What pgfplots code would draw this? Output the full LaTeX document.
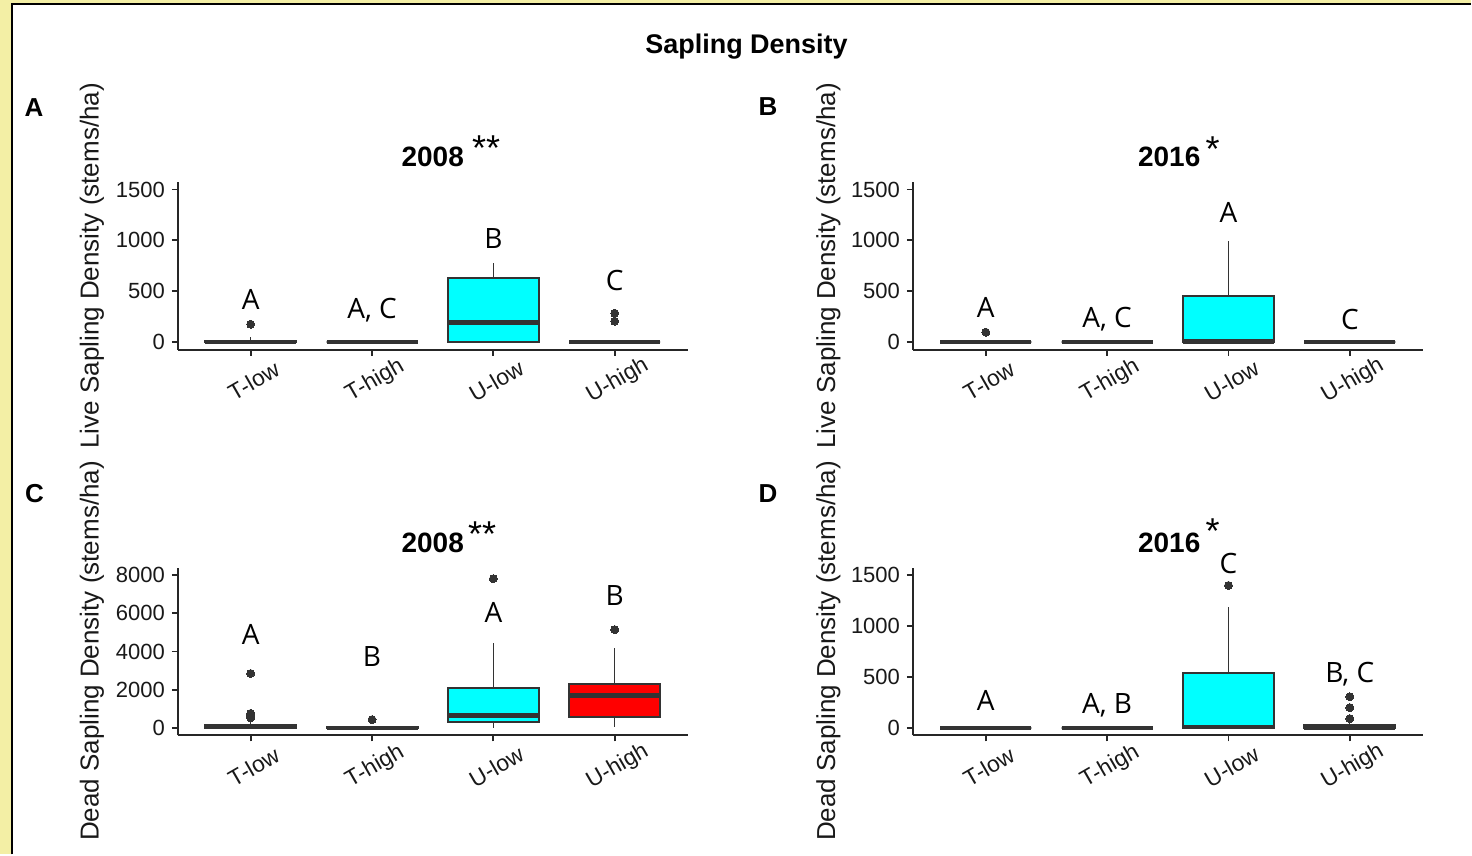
\documentclass[border=0pt]{standalone}
\usepackage{pgfplots}
\pgfplotsset{compat=1.18}
\usepackage{fontspec}
\setmainfont{Liberation Sans}
\newfontfamily\letterfont{Open Sans}
\definecolor{bgyellow}{HTML}{F3EFA5}
\definecolor{boxline}{HTML}{333333}
\definecolor{ucyan}{HTML}{00FFFF}
\definecolor{ured}{HTML}{FF0000}
\pgfplotsset{
 panel/.style={
  scale only axis, width=255pt, height=84pt, anchor=south west,
  axis lines=left, axis line style={-, line width=1pt, draw=black!85},
  xmin=0.4, xmax=4.6, xtick={1,2,3,4}, xticklabels={T-low,T-high,U-low,U-high},
  tick align=outside, major tick length=3pt, tick style={line width=0.9pt, draw=black!85},
  every tick label/.append style={font=\fontsize{11}{12}\selectfont, text=black!90},
  xticklabel style={yshift=-12.5pt, xshift=1.5pt, rotate=30, anchor=center, font=\fontsize{11.4}{12}\selectfont},
  /pgf/number format/assume math mode=true,
  /pgf/number format/1000 sep={},
  scaled y ticks=false,
  clip=false,
 },
}
% #1 left, #2 centre, #3 right, #4 lower whisker, #5 q1, #6 median, #7 q3, #8 upper whisker, #9 fill
\newcommand\bx[9]{%
 \addplot[draw=boxline, line width=0.6pt, forget plot] coordinates {(#2,#4) (#2,#5)};
 \addplot[draw=boxline, line width=0.6pt, forget plot] coordinates {(#2,#7) (#2,#8)};
 \addplot[draw=boxline, line width=1pt, fill=#9, forget plot] coordinates {(#1,#5) (#3,#5) (#3,#7) (#1,#7)} -- cycle;
 \addplot[draw=boxline, line width=2.3pt, forget plot] coordinates {(#1,#6) (#3,#6)};
}
\pgfplotsset{outl/.style={only marks, mark=*, mark size=2pt, draw=boxline, fill=boxline, mark options={draw=boxline, fill=boxline, line width=0pt}}}
\tikzset{
 letter/.style={font=\letterfont\fontsize{14}{16}\selectfont, anchor=base, inner sep=0pt, text=black},
 ylab/.style={font=\fontsize{13}{15}\selectfont, rotate=90, anchor=center, text=black!90},
 ptitle/.style={font=\bfseries\fontsize{14}{16}\selectfont, anchor=base, inner sep=0pt},
 star/.style={font=\fontsize{18}{20}\selectfont, anchor=base west, inner sep=0pt},
 tag/.style={font=\bfseries\fontsize{13}{15}\selectfont, anchor=base, inner sep=0pt},
}
\begin{document}
\begin{tikzpicture}
% background frame
\fill[bgyellow] (0,0) rectangle (736pt,427.5pt);
\fill[white] (6pt,0) rectangle (736pt,425.25pt);
\draw[line width=1pt, black] (6pt,0) -- (6pt,425.25pt) -- (736pt,425.25pt);

% titles
\node[font=\bfseries\fontsize{13.5}{15}\selectfont, anchor=base, inner sep=0pt] at (373.5pt,400.75pt) {Sapling Density};
\node[tag] at (17pt,369.15pt) {A};
\node[tag] at (384.25pt,369.5pt) {B};
\node[tag] at (17.25pt,176.15pt) {C};
\node[tag] at (384.25pt,175.85pt) {D};
\node[ylab] at (46pt,294.5pt) {Live Sapling Density (stems/ha)};
\node[ylab] at (414.5pt,294.5pt) {Live Sapling Density (stems/ha)};
\node[ylab] at (46pt,101.75pt) {Dead Sapling Density (stems/ha)};
\node[ylab] at (414.5pt,101.75pt) {Dead Sapling Density (stems/ha)};
\node[ptitle] at (216.5pt,344.15pt) {2008};
\node[star] at (236pt,347pt) {**};
\node[ptitle] at (585pt,344.15pt) {2016};
\node[star] at (603pt,346.5pt) {*};
\node[ptitle] at (216.5pt,150.85pt) {2008};
\node[star] at (234pt,154.25pt) {**};
\node[ptitle] at (585pt,150.85pt) {2016};
\node[star] at (603pt,155.75pt) {*};

% Panel A
\begin{axis}[panel, at={(89pt,252.5pt)}, ymin=-75, ymax=1575, ytick={0,500,1000,1500}]
\bx{0.625}{1}{1.375}{0}{0}{0}{12}{55}{white}
\bx{1.625}{2}{2.375}{0}{0}{0}{0}{0}{white}
\bx{2.625}{3}{3.375}{0}{0}{190}{630}{775}{ucyan}
\bx{3.625}{4}{4.375}{0}{0}{0}{0}{0}{white}
\addplot[outl] coordinates {(1,176) (4,284) (4,206)};
\node[letter] at (axis cs:1,324) {A};
\node[letter] at (axis cs:2,235) {A, C};
\node[letter] at (axis cs:3,922) {B};
\node[letter] at (axis cs:4,510) {C};
\end{axis}

% Panel B
\begin{axis}[panel, at={(456.8pt,252.5pt)}, ymin=-75, ymax=1575, ytick={0,500,1000,1500}]
\bx{0.625}{1}{1.375}{0}{0}{0}{0}{0}{white}
\bx{1.625}{2}{2.375}{0}{0}{0}{0}{0}{white}
\bx{2.625}{3}{3.375}{0}{0}{5}{450}{995}{ucyan}
\bx{3.625}{4}{4.375}{0}{0}{0}{0}{0}{white}
\addplot[outl] coordinates {(1,98)};
\node[letter] at (axis cs:1,245) {A};
\node[letter] at (axis cs:2,147) {A, C};
\node[letter] at (axis cs:3,1176) {A};
\node[letter] at (axis cs:4,127) {C};
\end{axis}

% Panel C
\begin{axis}[panel, at={(89pt,59.5pt)}, ymin=-400, ymax=8400, ytick={0,2000,4000,6000,8000}]
\bx{0.625}{1}{1.375}{0}{0}{50}{150}{350}{white}
\bx{1.625}{2}{2.375}{0}{0}{0}{50}{100}{white}
\bx{2.625}{3}{3.375}{0}{314}{644}{2110}{4450}{ucyan}
\bx{3.625}{4}{4.375}{60}{555}{1690}{2300}{4190}{ured}
\addplot[outl] coordinates {(1,2850) (1,760) (1,640) (1,520) (2,434) (3,7820) (4,5150)};
\node[letter] at (axis cs:1,4370) {A};
\node[letter] at (axis cs:2,3220) {B};
\node[letter] at (axis cs:3,5530) {A};
\node[letter] at (axis cs:4,6423) {B};
\end{axis}

% Panel D
\begin{axis}[panel, at={(456.8pt,59.5pt)}, ymin=-75, ymax=1575, ytick={0,500,1000,1500}]
\bx{0.625}{1}{1.375}{0}{0}{0}{0}{0}{white}
\bx{1.625}{2}{2.375}{0}{0}{0}{0}{0}{white}
\bx{2.625}{3}{3.375}{0}{0}{10}{540}{1190}{ucyan}
\bx{3.625}{4}{4.375}{0}{0}{0}{25}{50}{white}
\addplot[outl] coordinates {(3,1400) (4,306) (4,199) (4,91)};
\node[letter] at (axis cs:1,170) {A};
\node[letter] at (axis cs:2,140) {A, B};
\node[letter] at (axis cs:3,1513) {C};
\node[letter] at (axis cs:4,444) {B, C};
\end{axis}
\end{tikzpicture}
\end{document}
